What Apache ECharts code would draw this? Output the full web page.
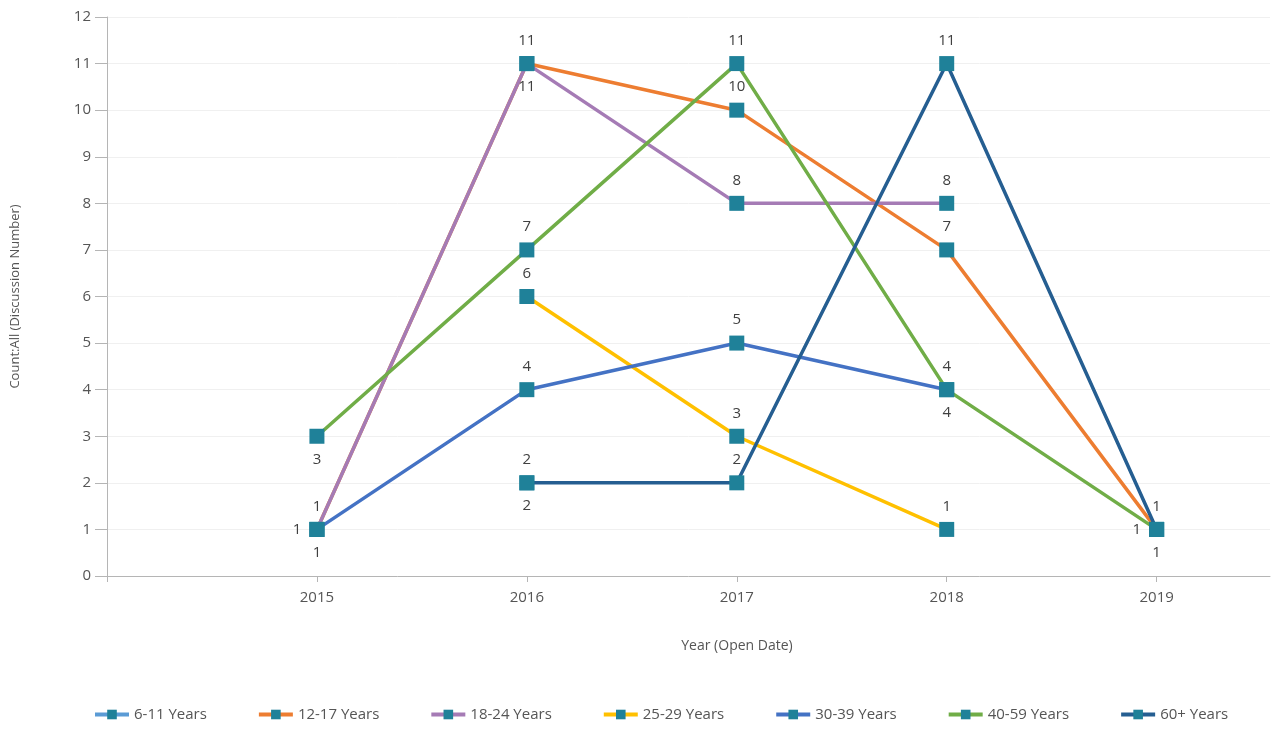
<!DOCTYPE html>
<html><head><meta charset="utf-8">
<script src="https://cdn.jsdelivr.net/npm/echarts@6/dist/echarts.min.js"></script>
<style>html,body{margin:0;padding:0;background:#fff}#c{width:1273px;height:729px}</style>
</head><body><div id="c"></div>
<script>
var years = [2015, 2016, 2017, 2018, 2019];
var seriesNames = ['6-11 Years','12-17 Years','18-24 Years','25-29 Years','30-39 Years','40-59 Years','60+ Years'];
var v6_11  = [null, 2, null, null, null];
var v12_17 = [1, 11, 10, 7, 1];
var v18_24 = [1, 11, 8, 8, null];
var v25_29 = [null, 6, 3, 1, null];
var v30_39 = [1, 4, 5, 4, null];
var v40_59 = [3, 7, 11, 4, 1];
var v60p   = [null, 2, 2, 11, 1];
var yTicks = [0,1,2,3,4,5,6,7,8,9,10,11,12];

var values = [v6_11, v12_17, v18_24, v25_29, v30_39, v40_59, v60p];
var colors = ['#5b9bd5','#ed7d31','#a57bb5','#ffc000','#4472c4','#70ad47','#255e91'];
var labelPos = [
  [null,'bottom',null,null,null],
  ['left','top','top','top','top'],
  ['top','bottom','top','top',null],
  [null,'top','top','top',null],
  ['bottom','top','top','top',null],
  ['bottom','top','top','bottom','left'],
  [null,'top','top','top','bottom']
];
var markerColor = '#1f8199';

var series = values.map(function(arr, i){
  return {
    name: seriesNames[i],
    type: 'line',
    symbol: 'rect',
    symbolSize: 15,
    lineStyle: {width: 3.5, color: colors[i]},
    itemStyle: {color: markerColor},
    color: colors[i],
    connectNulls: false,
    data: arr.map(function(v, j){
      return {value: [years[j], v], label: {position: labelPos[i][j] || 'top'}};
    }),
    label: {show: true, color: '#404040', fontSize: 15, distance: 8,
      fontFamily: 'Open Sans',
      formatter: function(p){ return p.value[1]; }}
  };
});

var chart = echarts.init(document.getElementById('c'));
chart.setOption({
  animation: false,
  textStyle: {fontFamily: 'Open Sans'},
  grid: {left: 107, right: 3, top: 17, bottom: 153},
  xAxis: {
    type: 'value', min: 2014, max: 2019.54, interval: 1,
    axisLine: {lineStyle: {color: '#b5b5b5'}},
    axisTick: {show: true, length: 6, lineStyle: {color: '#b5b5b5'}},
    splitLine: {show: false},
    axisLabel: {color: '#555', fontSize: 15, margin: 14, showMaxLabel: false,
      formatter: function(v){ return (v > 2014 && v % 1 === 0) ? String(v) : ''; }}
  },
  yAxis: {
    type: 'value', min: 0, max: 12, interval: 1,
    name: 'Count:All (Discussion Number)', nameLocation: 'middle', nameGap: 85,
    nameTextStyle: {color: '#555', fontSize: 13},
    axisLine: {show: true, lineStyle: {color: '#b5b5b5'}},
    axisTick: {show: true, length: 12, lineStyle: {color: '#b5b5b5'}},
    splitLine: {lineStyle: {color: '#f0f0f0'}},
    axisLabel: {color: '#555', fontSize: 15, margin: 16,
      formatter: function(v){ return yTicks.indexOf(v) >= 0 ? String(v) : ''; }}
  },
  graphic: [{type: 'text', x: 737, y: 646,
    style: {text: 'Year (Open Date)', fill: '#555', fontSize: 14, fontFamily: 'Open Sans',
      textAlign: 'center', textVerticalAlign: 'middle'}}],
  legend: {
    bottom: 2, left: 88, itemWidth: 34, itemHeight: 12, itemGap: 50,
    lineStyle: {width: 4},
    textStyle: {color: '#555', fontSize: 15},
    data: seriesNames
  },
  series: series
});
</script></body></html>
